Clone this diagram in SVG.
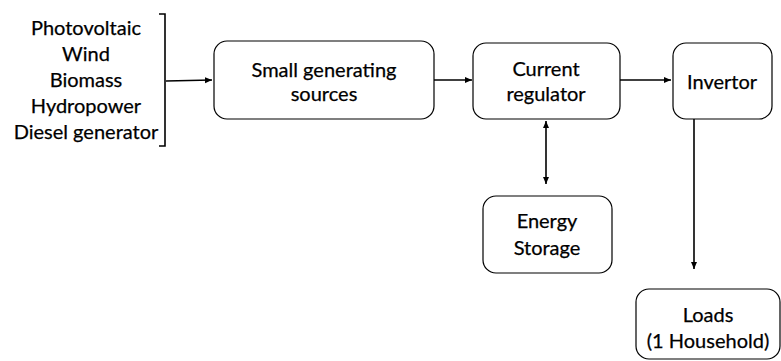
<svg xmlns="http://www.w3.org/2000/svg" width="781" height="361" viewBox="0 0 781 361">
<style>
.box{fill:#fff;stroke:#000;stroke-width:1.2}
.t{font-family:Lato,"Open Sans","Liberation Sans",sans-serif;font-size:20px;fill:#000;text-anchor:middle;stroke:#000;stroke-width:0.25}
.c{stroke:#000;stroke-width:1.6;fill:none}
</style>
<defs>
<marker id="ah" markerWidth="8" markerHeight="8" refX="7" refY="4" orient="auto-start-reverse" markerUnits="userSpaceOnUse">
<path d="M0,1 L7,4 L0,7 Z" fill="#000"/>
</marker>
</defs>
<rect width="781" height="361" fill="#fff"/>
<g id="sources-list">
<text class="t" x="86" y="35">Photovoltaic</text>
<text class="t" x="86" y="61">Wind</text>
<text class="t" x="86" y="87">Biomass</text>
<text class="t" x="86" y="113">Hydropower</text>
<text class="t" x="86" y="139">Diesel generator</text>
<path class="c" d="M159,14 H165 V146 H159"/>
</g>
<g id="small-gen">
<rect class="box" x="214" y="41" width="220" height="78" rx="13"/>
<text class="t" x="324" y="77">Small generating</text>
<text class="t" x="324" y="101">sources</text>
</g>
<g id="current-regulator">
<rect class="box" x="473" y="43" width="147" height="76" rx="13"/>
<text class="t" x="546" y="76">Current</text>
<text class="t" x="546" y="101">regulator</text>
</g>
<g id="invertor">
<rect class="box" x="673" y="43" width="99" height="76" rx="13"/>
<text class="t" x="722" y="89">Invertor</text>
</g>
<g id="energy-storage">
<rect class="box" x="483" y="196" width="129" height="77" rx="13"/>
<text class="t" x="547" y="228">Energy</text>
<text class="t" x="547" y="255">Storage</text>
</g>
<g id="loads">
<rect class="box" x="636" y="289" width="144" height="70" rx="13"/>
<text class="t" x="708" y="322">Loads</text>
<text class="t" x="708" y="348">(1 Household)</text>
</g>
<g id="connectors">
<path class="c" d="M166,81 L212,80" marker-end="url(#ah)"/>
<path class="c" d="M434,80 H472" marker-end="url(#ah)"/>
<path class="c" d="M620,80 H671" marker-end="url(#ah)"/>
<path class="c" d="M546,121 V184" marker-start="url(#ah)" marker-end="url(#ah)"/>
<path class="c" d="M694,119 V269" marker-end="url(#ah)"/>
</g>
</svg>
